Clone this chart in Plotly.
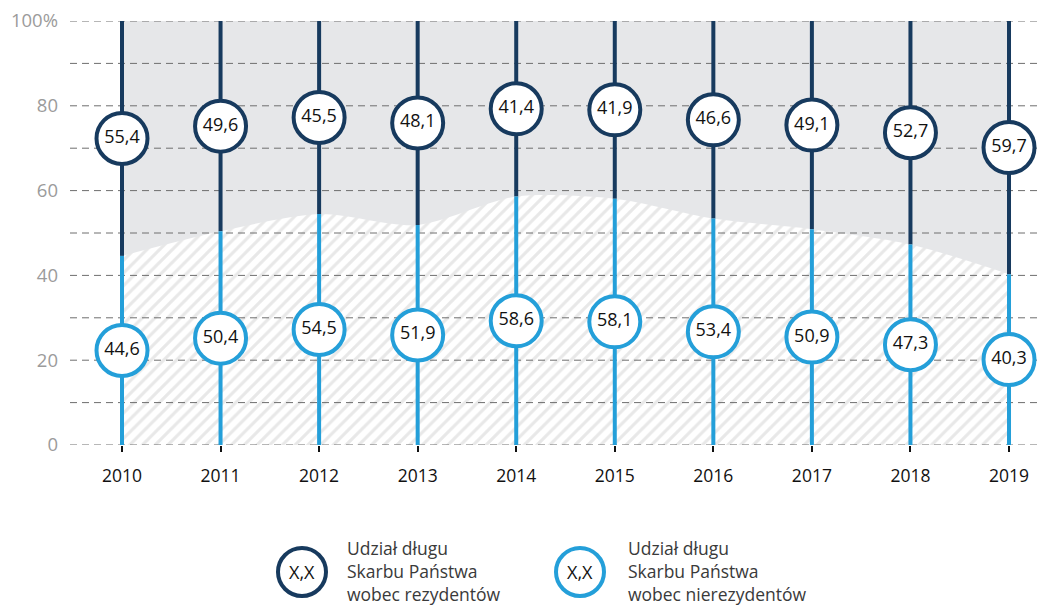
import plotly.graph_objects as go

years = [2010, 2011, 2012, 2013, 2014, 2015, 2016, 2017, 2018, 2019]
residents = [55.4, 49.6, 45.5, 48.1, 41.4, 41.9, 46.6, 49.1, 52.7, 59.7]
nonresidents = [44.6, 50.4, 54.5, 51.9, 58.6, 58.1, 53.4, 50.9, 47.3, 40.3]
y_ticks = [0, 20, 40, 60, 80, 100]
y_ticktext = ["0", "20", "40", "60", "80", "100%"]
grid_values = [0, 10, 20, 30, 40, 50, 60, 70, 80, 90, 100]
legend_labels = ["Udział długu<br>Skarbu Państwa<br>wobec rezydentów",
                 "Udział długu<br>Skarbu Państwa<br>wobec nierezydentów"]
legend_sample = "X,X"

DARK = "#173a5e"
LIGHT = "#249fd9"
FONT = "Open Sans"

# page has an 8px body margin; figure spans from there to the window edge
OFF = 8
FIG_W, FIG_H = 1049 - OFF, 605 - OFF
L, T = 70 - OFF, 21 - OFF
H = 445 - 21
W = FIG_W - L
x_range = [2009.4724, 2019.4058]

def fmt(v):
    return f"{v:.1f}".replace(".", ",")

fig = go.Figure()

# gray background area
fig.add_trace(go.Scatter(
    x=[years[0], years[-1]], y=[100, 100], mode="lines",
    line=dict(width=0), fill="tozeroy", fillcolor="#e6e7e9",
    hoverinfo="skip", showlegend=False))

# hatched area under non-resident share
fig.add_trace(go.Scatter(
    x=years, y=nonresidents, mode="lines",
    line=dict(width=0, shape="spline", smoothing=0.8),
    fill="tozeroy", fillcolor="white",
    fillpattern=dict(shape="/", bgcolor="white", fgcolor="#d1d1d1",
                     size=9, solidity=0.35),
    hoverinfo="skip", showlegend=False))

# dashed gridlines drawn above the fills
gx, gy = [], []
for v in grid_values:
    gx += [x_range[0], x_range[1], None]
    gy += [v, v, None]
fig.add_trace(go.Scatter(
    x=gx, y=gy, mode="lines",
    line=dict(color="#6e6e6e", width=1, dash="7px,5px"),
    hoverinfo="skip", showlegend=False))

# stems
dx, dy, lx, ly = [], [], [], []
for yr, n in zip(years, nonresidents):
    lx += [yr, yr, None]
    ly += [0, n, None]
    dx += [yr, yr, None]
    dy += [n, 100, None]
fig.add_trace(go.Scatter(x=dx, y=dy, mode="lines",
                         line=dict(color=DARK, width=4),
                         hoverinfo="skip", showlegend=False))
fig.add_trace(go.Scatter(x=lx, y=ly, mode="lines",
                         line=dict(color=LIGHT, width=4),
                         hoverinfo="skip", showlegend=False))

# circles with labels
res_pos = [n + r / 2 for n, r in zip(nonresidents, residents)]
non_pos = [n / 2 for n in nonresidents]
fig.add_trace(go.Scatter(
    x=years, y=res_pos, mode="markers+text",
    marker=dict(size=51, color="white", line=dict(color=DARK, width=4)),
    text=[fmt(v) for v in residents], textposition="middle center",
    textfont=dict(family=FONT, size=18, color="#111111"),
    hoverinfo="skip", showlegend=False))
fig.add_trace(go.Scatter(
    x=years, y=non_pos, mode="markers+text",
    marker=dict(size=51, color="white", line=dict(color=LIGHT, width=4)),
    text=[fmt(v) for v in nonresidents], textposition="middle center",
    textfont=dict(family=FONT, size=18, color="#111111"),
    hoverinfo="skip", showlegend=False))

# custom legend (positions given in page pixels)
def px_x(p):
    return (p - OFF - L) / W
def px_y(p):
    return (T + H - (p - OFF)) / H

shapes = []
annotations = []
for cx, tx, color, label in [(302, 345, DARK, legend_labels[0]),
                             (580, 626, LIGHT, legend_labels[1])]:
    shapes.append(dict(type="circle", xref="paper", yref="paper",
                       xsizemode="pixel", ysizemode="pixel",
                       xanchor=px_x(cx), yanchor=px_y(572),
                       x0=-24, x1=24, y0=-24, y1=24,
                       line=dict(color=color, width=4), fillcolor="white"))
    annotations.append(dict(x=px_x(cx), y=px_y(572), xref="paper", yref="paper",
                            text=legend_sample, showarrow=False,
                            xanchor="center", yanchor="middle",
                            font=dict(family=FONT, size=18, color="#111111")))
    annotations.append(dict(x=px_x(tx), y=px_y(571), xref="paper", yref="paper",
                            text=label, showarrow=False, align="left",
                            xanchor="left", yanchor="middle",
                            font=dict(family=FONT, size=17.5, color="#3a3a3a")))

fig.update_layout(
    width=FIG_W, height=FIG_H,
    margin=dict(l=L, r=0, t=T, b=FIG_H - T - H, pad=0),
    plot_bgcolor="white", paper_bgcolor="white",
    font=dict(family=FONT),
    shapes=shapes, annotations=annotations,
    xaxis=dict(range=x_range, tickvals=years, ticktext=[str(y) for y in years],
               showgrid=False, zeroline=False, showline=False,
               ticks="outside", ticklen=6, tickwidth=2, tickcolor="#111111",
               tickfont=dict(family=FONT, size=17.5, color="#111111"),
               ticklabelstandoff=9, ticklabeloverflow="allow"),
    yaxis=dict(range=[0, 100], tickvals=y_ticks, ticktext=y_ticktext,
               showgrid=False, zeroline=False, showline=False,
               tickfont=dict(family=FONT, size=18.5, color="#9b9b9b"),
               ticklabelstandoff=11, ticklabeloverflow="allow"),
)

fig.write_html("out.html")
